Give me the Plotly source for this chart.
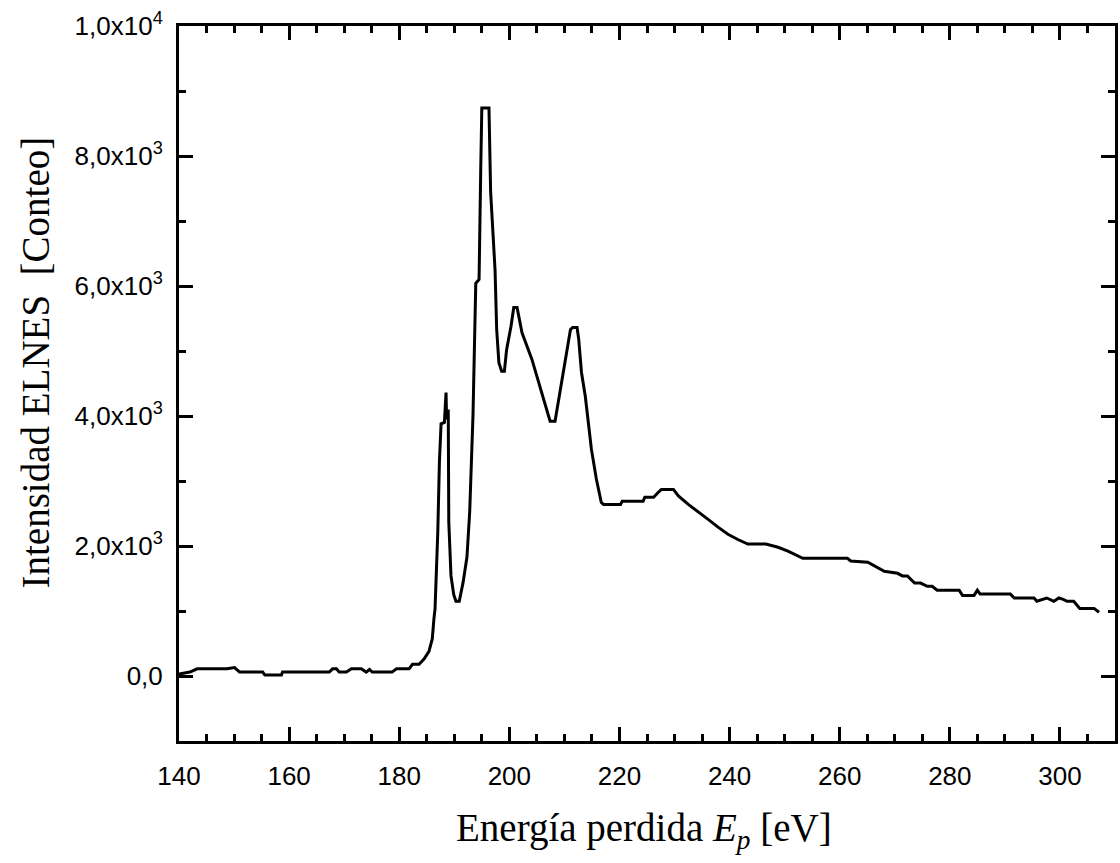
import plotly.graph_objects as go

# Energy loss [eV]
energy = [
    140.0, 141.0, 142.0, 143.3, 144.3, 148.7, 150.1, 151.0, 155.2, 155.6,
    158.6, 158.8, 167.3, 167.9, 168.6, 169.1, 170.4, 171.3, 173.1, 174.0,
    174.6, 175.1, 178.7, 179.5, 181.8, 182.4, 183.6, 184.5, 185.4, 186.0,
    186.3, 186.5, 187.0, 187.3, 187.6, 188.2, 188.5, 188.6, 188.9, 189.0,
    189.4, 189.9, 190.3, 190.9, 191.6, 192.3, 192.8, 193.4, 193.9, 194.5,
    194.8, 195.0, 196.3, 196.6, 197.4, 197.7, 198.1, 198.6, 199.1, 199.5,
    200.3, 200.8, 201.4, 202.3, 204.1, 205.9, 207.4, 208.3, 209.5, 210.2,
    211.1, 211.5, 212.3, 212.6, 213.1, 213.8, 214.4, 214.9, 215.8, 216.7,
    217.1, 220.2, 220.5, 224.3, 224.6, 226.2, 227.1, 227.6, 229.8, 230.7,
    232.5, 234.3, 236.1, 237.9, 239.7, 241.5, 243.3, 246.6, 248.8, 250.6,
    252.4, 253.3, 261.4, 262.0, 265.1, 266.3, 268.1, 270.5, 271.4, 272.3,
    273.6, 274.7, 275.9, 276.8, 277.7, 281.7, 282.3, 284.4, 285.0, 285.5,
    291.0, 291.7, 295.3, 295.8, 297.6, 298.9, 299.8, 300.6, 301.3, 302.5,
    303.6, 306.2, 307.1,
]

# ELNES intensity [counts]
intensity = [
    30, 40, 60, 110, 110, 110, 130, 60, 60, 15,
    15, 60, 60, 110, 110, 60, 60, 110, 110, 60,
    100, 60, 60, 110, 110, 180, 180, 260, 380, 570,
    880, 1030, 2210, 3300, 3880, 3900, 4360, 3950, 4100, 2370,
    1540, 1250, 1150, 1150, 1440, 1830, 2530, 4020, 6040, 6100,
    7790, 8740, 8740, 7450, 6250, 5330, 4820, 4690, 4690, 5020,
    5380, 5670, 5670, 5280, 4870, 4360, 3920, 3920, 4520, 4920,
    5330, 5360, 5360, 5180, 4670, 4300, 3900, 3490, 3030, 2670,
    2640, 2640, 2690, 2690, 2750, 2750, 2830, 2870, 2870, 2770,
    2640, 2530, 2410, 2290, 2180, 2100, 2030, 2030, 1980, 1920,
    1840, 1810, 1810, 1770, 1750, 1690, 1610, 1580, 1540, 1540,
    1430, 1430, 1380, 1380, 1320, 1320, 1240, 1240, 1320, 1260,
    1260, 1200, 1200, 1150, 1200, 1150, 1200, 1180, 1150, 1150,
    1040, 1040, 980,
]

y_tickvals = [0, 2000, 4000, 6000, 8000, 10000]
y_ticktext = ["0,0", "2,0x10<sup>3</sup>", "4,0x10<sup>3</sup>",
              "6,0x10<sup>3</sup>", "8,0x10<sup>3</sup>", "1,0x10<sup>4</sup>"]
y_minorvals = [-1000, 1000, 3000, 5000, 7000, 9000]

x_title = "Energía perdida <i>E</i><sub><i>p</i></sub> [eV]"
y_title = "Intensidad ELNES \u00a0[Conteo]"

fig = go.Figure()
fig.add_trace(go.Scatter(
    x=energy, y=intensity, mode="lines",
    line=dict(color="black", width=3),
    showlegend=False,
))

tick_font = dict(family="Liberation Sans, Arial, sans-serif", size=26, color="black")
title_font = dict(family="Liberation Serif, Times New Roman, serif", size=39, color="black")

fig.update_xaxes(
    range=[140, 310], tickmode="linear", tick0=140, dtick=20,
    showline=True, linecolor="black", linewidth=3, mirror="ticks",
    ticks="inside", ticklen=14, tickwidth=2.5, tickcolor="black",
    minor=dict(ticks="inside", ticklen=7, tickwidth=2.5, tickcolor="black", dtick=5, tick0=140),
    showgrid=False, zeroline=False, tickfont=tick_font, ticklabelstandoff=10,
)
fig.update_yaxes(
    range=[-1000, 10000], tickmode="array", tickvals=y_tickvals, ticktext=y_ticktext,
    showline=True, linecolor="black", linewidth=3, mirror="ticks",
    ticks="inside", ticklen=14, tickwidth=2.5, tickcolor="black",
    minor=dict(ticks="inside", ticklen=7, tickwidth=2.5, tickcolor="black",
               tickmode="array", tickvals=y_minorvals),
    showgrid=False, zeroline=False, tickfont=tick_font, ticklabelstandoff=8,
)

fig.update_layout(
    width=1120, height=863,
    margin=dict(l=179, r=2, t=26, b=122),
    plot_bgcolor="white", paper_bgcolor="white",
    annotations=[
        dict(text=x_title, xref="paper", yref="paper",
             x=(645 - 179) / 939, y=(741 - 830) / 715,
             xanchor="center", yanchor="middle", showarrow=False, font=title_font),
        dict(text=y_title, xref="paper", yref="paper",
             x=(35 - 179) / 939, y=(741 - 362) / 715, textangle=-90,
             xanchor="center", yanchor="middle", showarrow=False, font=title_font),
    ],
)

fig.write_html("out.html")
